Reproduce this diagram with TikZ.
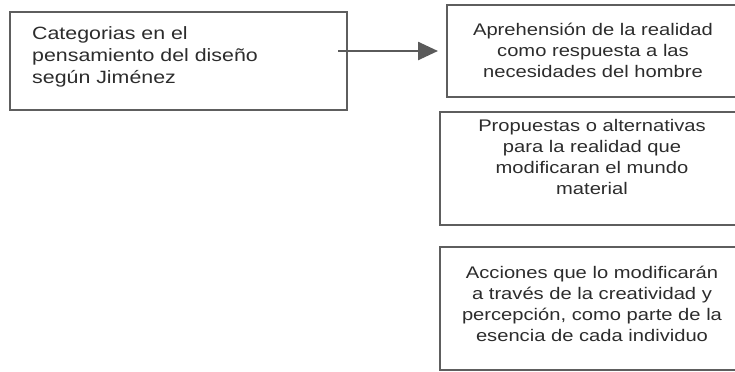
\documentclass[tikz,border=0pt]{standalone}
\usepackage{fontspec}
\setmainfont{Liberation Sans}[FakeStretch=1.2]
\usetikzlibrary{arrows.meta}
\definecolor{boxline}{HTML}{5E5E5E}
\definecolor{txt}{HTML}{2C2C2C}
\definecolor{arr}{HTML}{5A5A5A}
\tikzset{
  catbox/.style={draw=boxline, line width=2bp, rectangle, inner sep=0pt, text=txt},
  leftfont/.style={font=\fontsize{17.8bp}{22bp}\selectfont},
  rightfont/.style={font=\fontsize{16.8bp}{21bp}\selectfont},
  conn/.style={draw=arr, line width=2.5bp, -{Triangle[length=20bp,width=18bp]}}
}
\begin{document}
\begin{tikzpicture}[x=1bp,y=-1bp]
\useasboundingbox (0,0) rectangle (735,371);
% left box
\node[catbox, minimum width=337bp, minimum height=98bp] (cat) at (178.5,61) {};
\node[leftfont, text=txt, align=left, anchor=north west, inner sep=0pt] (cattxt) at (32,26) {Categorias en el\\pensamiento del diseño\\según Jiménez};
% right boxes
\node[catbox, minimum width=292bp, minimum height=92bp] (b1) at (593,51) {};
\node[rightfont, text=txt, align=center, inner sep=0pt] (b1t) at (593,50) {Aprehensión de la realidad\\como respuesta a las\\necesidades del hombre};
\node[catbox, minimum width=304bp, minimum height=113bp] (b2) at (592,168.5) {};
\node[rightfont, text=txt, align=center, inner sep=0pt] (b2t) at (592,157) {Propuestas o alternativas\\para la realidad que\\modificaran el mundo\\material};
\node[catbox, minimum width=304bp, minimum height=123bp] (b3) at (592,308.5) {};
\node[rightfont, text=txt, align=center, inner sep=0pt] (b3t) at (592,304) {Acciones que lo modificarán\\a través de la creatividad y\\percepción, como parte de la\\esencia de cada individuo};
% arrow
\coordinate (a1) at (338,51);
\coordinate (a2) at (438,51);
\draw[conn] (a1) -- (a2);
\end{tikzpicture}
\end{document}
